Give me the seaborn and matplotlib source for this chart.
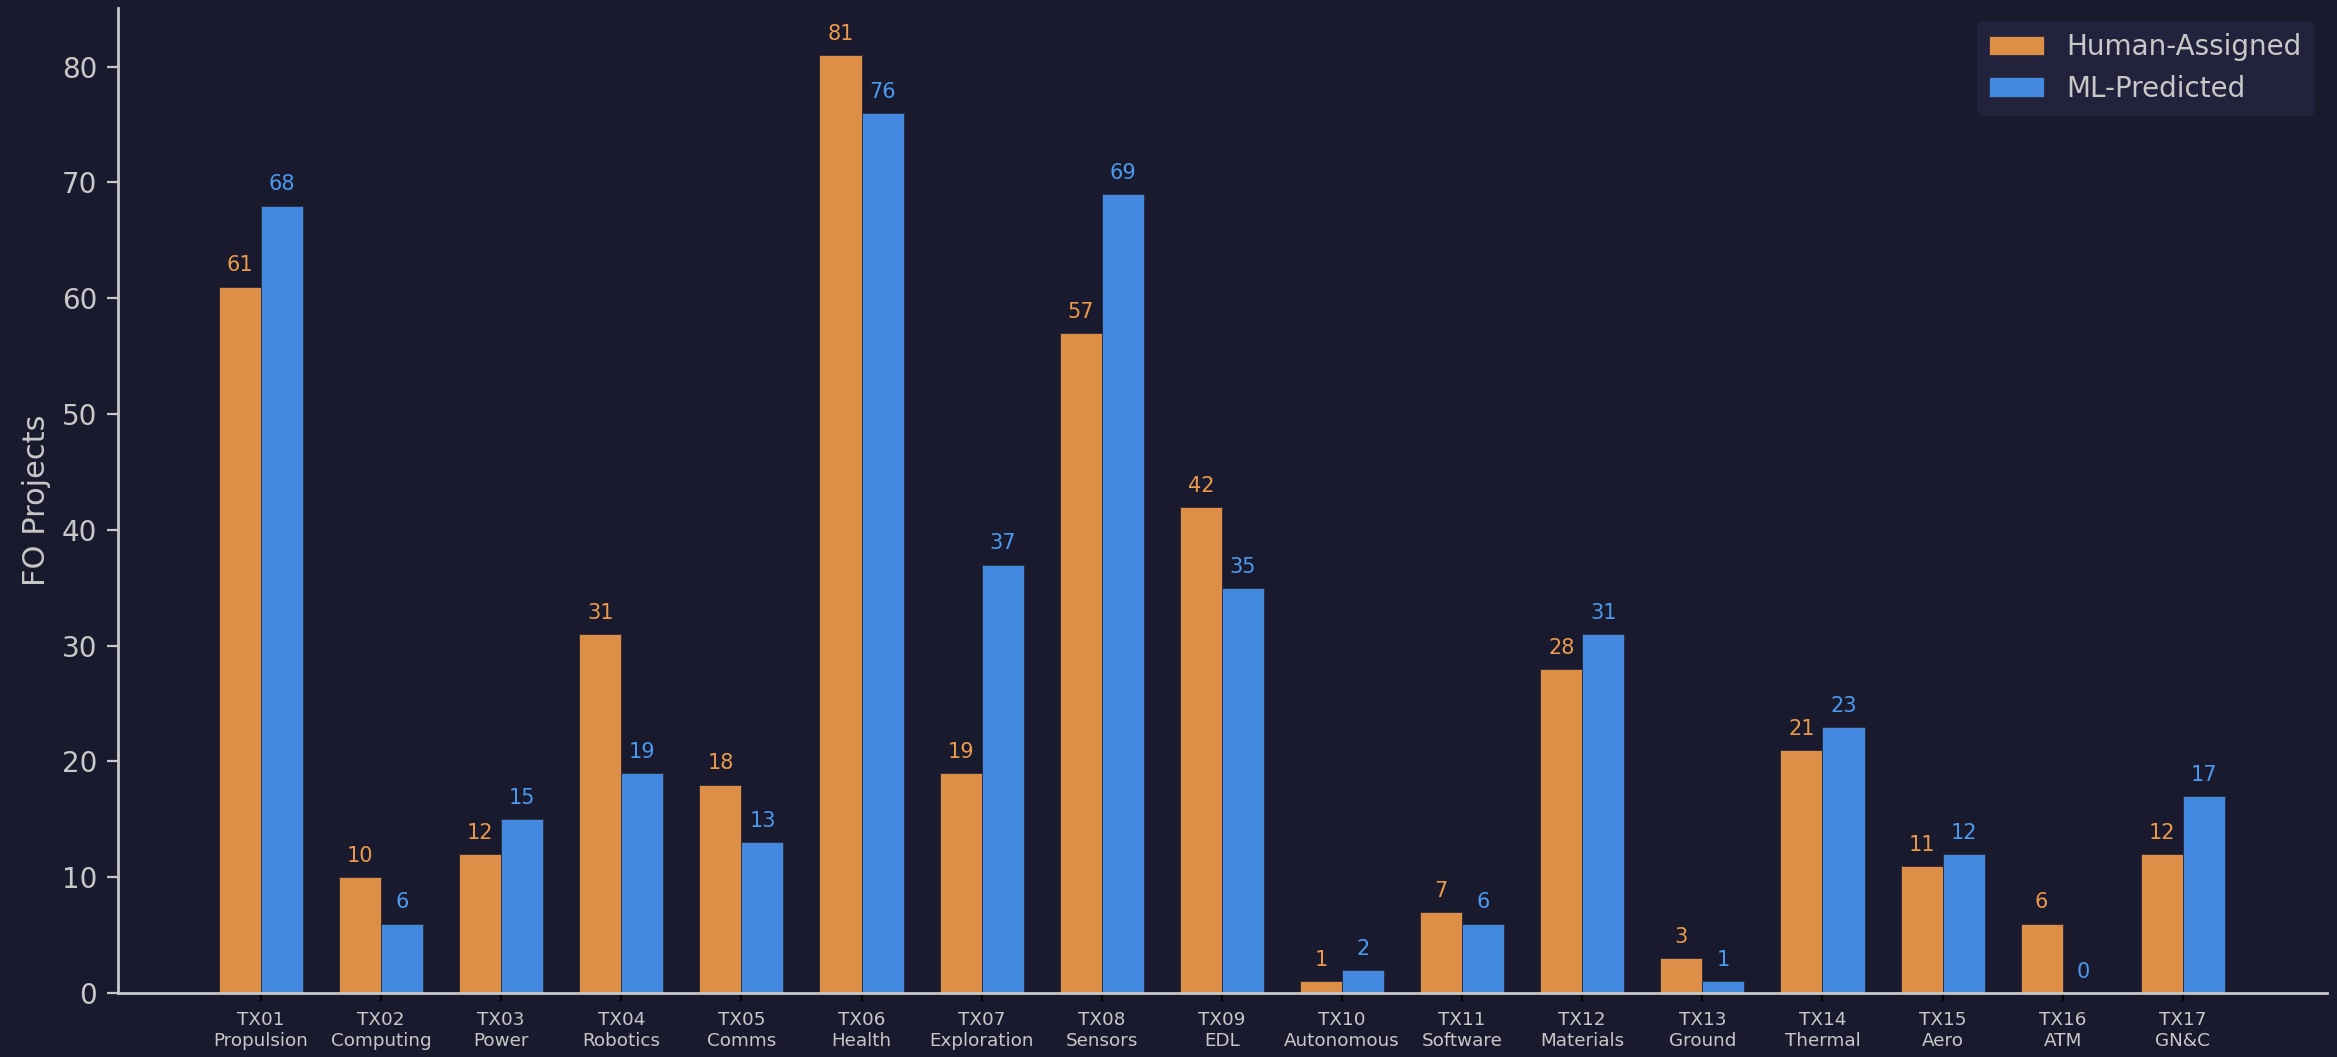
import pandas as pd
import seaborn as sns
import matplotlib
matplotlib.use('Agg')
import matplotlib.pyplot as plt

# Data
categories = ['TX01\nPropulsion', 'TX02\nComputing', 'TX03\nPower', 'TX04\nRobotics',
              'TX05\nComms', 'TX06\nHealth', 'TX07\nExploration', 'TX08\nSensors',
              'TX09\nEDL', 'TX10\nAutonomous', 'TX11\nSoftware', 'TX12\nMaterials',
              'TX13\nGround', 'TX14\nThermal', 'TX15\nAero', 'TX16\nATM', 'TX17\nGN&C']
human_assigned = [61, 10, 12, 31, 18, 81, 19, 57, 42, 1, 7, 28, 3, 21, 11, 6, 12]
ml_predicted = [68, 6, 15, 19, 13, 76, 37, 69, 35, 2, 6, 31, 1, 23, 12, 0, 17]
series = ['Human-Assigned', 'ML-Predicted']

bg = '#1a1a2e'
fg = '#c8c8c8'
bar_colors = {'Human-Assigned': '#dd8f47', 'ML-Predicted': '#4289df'}
label_colors = {'Human-Assigned': '#eb9a4c', 'ML-Predicted': '#4a9af0'}

df = pd.DataFrame({
    'Category': categories * 2,
    'Count': human_assigned + ml_predicted,
    'Source': [series[0]] * len(categories) + [series[1]] * len(categories),
})

plt.rcParams['font.family'] = ['DejaVu Sans']
fig, ax = plt.subplots(figsize=(11.685, 5.285), dpi=200)
fig.patch.set_facecolor(bg)
ax.set_facecolor(bg)

sns.barplot(data=df, x='Category', y='Count', hue='Source', hue_order=series,
            palette=bar_colors, width=0.7, edgecolor='#2a2a3a', linewidth=0.3,
            saturation=1, ax=ax)

# value labels above bars
for cont, name in zip(ax.containers, series):
    ax.bar_label(cont, fmt='%d', padding=4, color=label_colors[name], fontsize=7.5)

ax.set_xlim(-1.19, 17.2)
ax.set_ylim(0, max(human_assigned + ml_predicted) * 1.05)
ax.set_xlabel('')
ax.set_ylabel('FO Projects', color=fg, fontsize=11)

ax.tick_params(axis='x', colors='black', labelcolor=fg, labelsize=6.6, length=3, width=0.8)
ax.tick_params(axis='y', colors=fg, labelcolor=fg, labelsize=10, length=4, width=0.8)

sns.despine(ax=ax)
for side in ['left', 'bottom']:
    ax.spines[side].set_color(fg)
    ax.spines[side].set_linewidth(1.0)

leg = ax.legend(loc='upper right', fontsize=10, frameon=True, facecolor='#22223d',
                edgecolor='#22223d', framealpha=1, labelcolor=fg)

plt.subplots_adjust(left=0.0505, right=0.9957, bottom=0.0605, top=0.9924)
plt.savefig('out.png', dpi=200, facecolor=bg)
